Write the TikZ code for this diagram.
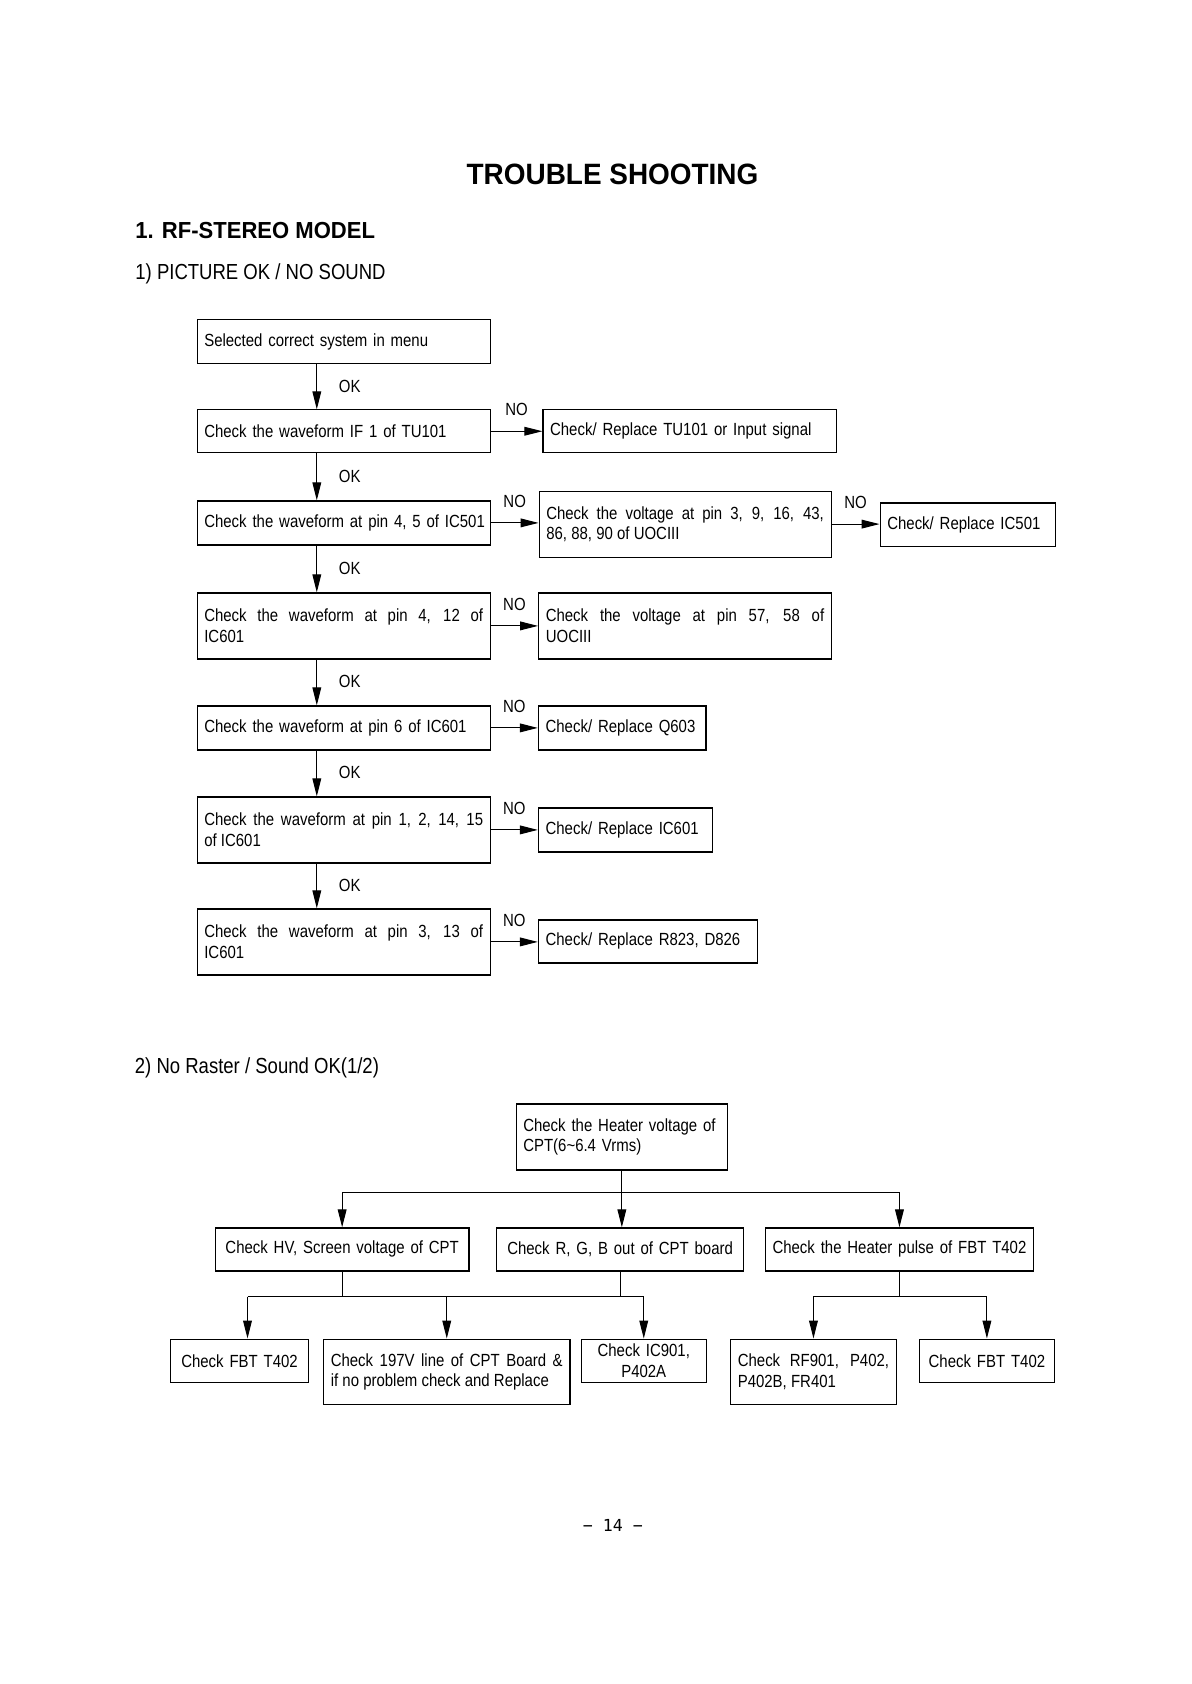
\documentclass[tikz,border=0pt]{standalone}
\usepackage{fontspec}
\setmainfont{Liberation Sans}[FakeStretch=0.85]
\newfontfamily\headf{Liberation Sans}[FakeStretch=0.95]
\newfontfamily\pgnf{DejaVu Sans Mono}
\usetikzlibrary{arrows.meta}

\tikzset{
  bodytext/.style={font={\fontsize{8.8}{10.2}\selectfont\spaceskip=2.1pt plus 1.2pt minus 0.6pt}},
  box/.style={draw, line width=0.6pt, bodytext, inner xsep=3.6pt, inner ysep=1pt},
  lbox/.style={box, align=left},
  jbox/.style={box, align=justify},
  cbox/.style={box, align=center},
  arr/.style={line width=0.5pt, -{Triangle[length=9pt,width=4.4pt]}},
  link/.style={line width=0.5pt},
  lab/.style={bodytext, inner sep=0pt, anchor=base},
}

\newcommand\mkbox[7]{%
  \pgfmathsetmacro\bxw{(#5-#3)/2-7.2}%
  \pgfmathsetmacro\bxh{(#6-#4)/2}%
  \node[#1, text width=\bxw pt, minimum height=\bxh pt, anchor=north west] (#2) at (#3,#4) {#7};%
}

\begin{document}
\begin{tikzpicture}[x=0.5pt, y=-0.5pt]
\useasboundingbox (0,0) rectangle (1191,1684);

% headings
\node[font=\headf\bfseries\fontsize{14.7}{17}\selectfont, anchor=base, inner sep=0pt] (title) at (612.5,184.3) {TROUBLE SHOOTING};
\node[font=\headf\bfseries\fontsize{11.6}{14}\selectfont, anchor=base west, inner sep=0pt] (sec) at (135,238.3) {1. RF-STEREO MODEL};
\node[font=\fontsize{10.9}{13}\selectfont, anchor=base west, inner sep=0pt] (sub1) at (135,280) {1) PICTURE OK / NO SOUND};
\node[font=\fontsize{10.9}{13}\selectfont, anchor=base west, inner sep=0pt] (sub2) at (134.5,1073) {2) No Raster / Sound OK(1/2)};
\node[font=\pgnf\fontsize{8.3}{10}\selectfont, anchor=base, inner sep=0pt] (pg) at (612.8,1531.7) {− 14 −};

% part 1: left column
\mkbox{lbox}{b1}{196.5}{319}{489.7}{363.3}{Selected correct system in menu}
\mkbox{lbox}{b2}{196.5}{409.3}{489.7}{452}{Check the waveform IF 1 of TU101}
\mkbox{lbox}{b3}{196.5}{500.3}{489.7}{544.3}{\mbox{Check the waveform at pin 4, 5 of IC501}}
\mkbox{jbox}{b4}{196.5}{592.3}{489.7}{658.3}{Check the waveform at pin 4, 12 of\linebreak IC601}
\mkbox{lbox}{b5}{196.5}{705.3}{489.7}{749.3}{Check the waveform at pin 6 of IC601}
\mkbox{jbox}{b6}{196.5}{796.3}{489.7}{862.3}{Check the waveform at pin 1, 2, 14, 15\linebreak of IC601}
\mkbox{jbox}{b7}{196.5}{908.3}{489.7}{974.3}{Check the waveform at pin 3, 13 of\linebreak IC601}

% part 1: right boxes
\mkbox{lbox}{r2}{542.3}{409.3}{835.5}{451.7}{Check/ Replace TU101 or Input signal}
\mkbox{jbox}{r3}{538.5}{490.5}{830.5}{556.5}{Check the voltage at pin 3, 9, 16, 43,\linebreak 86, 88, 90 of UOCIII}
\mkbox{lbox}{r3b}{879.5}{502.3}{1054.6}{545.7}{Check/ Replace IC501}
\mkbox{jbox}{r4}{538}{592.3}{830.8}{658.3}{Check the voltage at pin 57, 58 of\linebreak UOCIII}
\mkbox{lbox}{r5}{537.8}{705.3}{705.4}{749.3}{Check/ Replace Q603}
\mkbox{lbox}{r6}{537.8}{807.3}{711.7}{851.3}{Check/ Replace IC601}
\mkbox{lbox}{r7}{537.8}{919.3}{756.5}{962.3}{Check/ Replace R823, D826}

\coordinate (ax) at (316.8,0);

% OK arrows
\draw[arr] (b1.south -| ax) -- node[lab, xshift=16.45pt, yshift=-2.7pt]{OK} (b2.north -| ax);
\draw[arr] (b2.south -| ax) -- node[lab, xshift=16.45pt, yshift=-2.7pt]{OK} (b3.north -| ax);
\draw[arr] (b3.south -| ax) -- node[lab, xshift=16.45pt, yshift=-2.7pt]{OK} (b4.north -| ax);
\draw[arr] (b4.south -| ax) -- node[lab, xshift=16.45pt, yshift=-2.7pt]{OK} (b5.north -| ax);
\draw[arr] (b5.south -| ax) -- node[lab, xshift=16.45pt, yshift=-2.7pt]{OK} (b6.north -| ax);
\draw[arr] (b6.south -| ax) -- node[lab, xshift=16.45pt, yshift=-2.7pt]{OK} (b7.north -| ax);

% NO arrows
\draw[arr] (b2.east) -- node[lab, yshift=7.75pt]{NO} (b2.east -| r2.west);
\draw[arr] (b3.east) -- node[lab, yshift=7.9pt]{NO} (b3.east -| r3.west);
\draw[arr] (r3.east) -- node[lab, yshift=7.9pt]{NO} (r3.east -| r3b.west);
\draw[arr] (b4.east) -- node[lab, yshift=7.9pt]{NO} (b4.east -| r4.west);
\draw[arr] (b5.east) -- node[lab, yshift=7.9pt]{NO} (b5.east -| r5.west);
\draw[arr] (b6.east) -- node[lab, yshift=7.9pt]{NO} (b6.east -| r6.west);
\draw[arr] (b7.east) -- node[lab, yshift=7.9pt]{NO} (b7.east -| r7.west);

% part 2
\mkbox{lbox}{H}{515.5}{1103.3}{727}{1169.3}{Check the Heater voltage of\\CPT(6\textasciitilde 6.4 Vrms)}
\mkbox{cbox}{A}{214.8}{1227.3}{468.3}{1270.3}{Check HV, Screen voltage of CPT}
\mkbox{cbox}{B}{496}{1227.3}{743}{1270.3}{Check R, G, B out of CPT board}
\mkbox{cbox}{C}{764.7}{1227.3}{1033}{1270.3}{\mbox{Check the Heater pulse of FBT T402}}

\mkbox{cbox}{F1}{169.7}{1338.5}{308.2}{1382}{Check FBT T402}
\mkbox{jbox}{V}{323}{1338.5}{569.3}{1404}{\parfillskip=0pt Check 197V line of CPT Board \&\linebreak if no problem check and Replace}
\mkbox{cbox}{IC}{580.7}{1338.5}{705.6}{1382}{Check IC901,\\P402A}
\mkbox{jbox}{RF}{730}{1338.5}{895.7}{1404}{Check RF901, P402,\linebreak P402B, FR401}
\mkbox{cbox}{F2}{919}{1338.5}{1053.6}{1382}{Check FBT T402}

\coordinate (t1) at (0,1192.3);
\coordinate (t2) at (0,1296.7);
\coordinate (f1a) at (247.5,1296.7);

\draw[arr] (H.south) -- (H.south |- B.north);
\draw[link] (A.north |- t1) -- (C.north |- t1);
\draw[arr] (A.north |- t1) -- (A.north);
\draw[arr] (C.north |- t1) -- (C.north);

\draw[link] (A.south) -- (A.south |- t2);
\draw[link] (B.south) -- (B.south |- t2);
\draw[link] (f1a) -- (IC.north |- t2);
\draw[arr] (f1a) -- (f1a |- F1.north);
\draw[arr] (V.north |- t2) -- (V.north);
\draw[arr] (IC.north |- t2) -- (IC.north);

\draw[link] (C.south) -- (C.south |- t2);
\draw[link] (RF.north |- t2) -- (F2.north |- t2);
\draw[arr] (RF.north |- t2) -- (RF.north);
\draw[arr] (F2.north |- t2) -- (F2.north);
\end{tikzpicture}
\end{document}
